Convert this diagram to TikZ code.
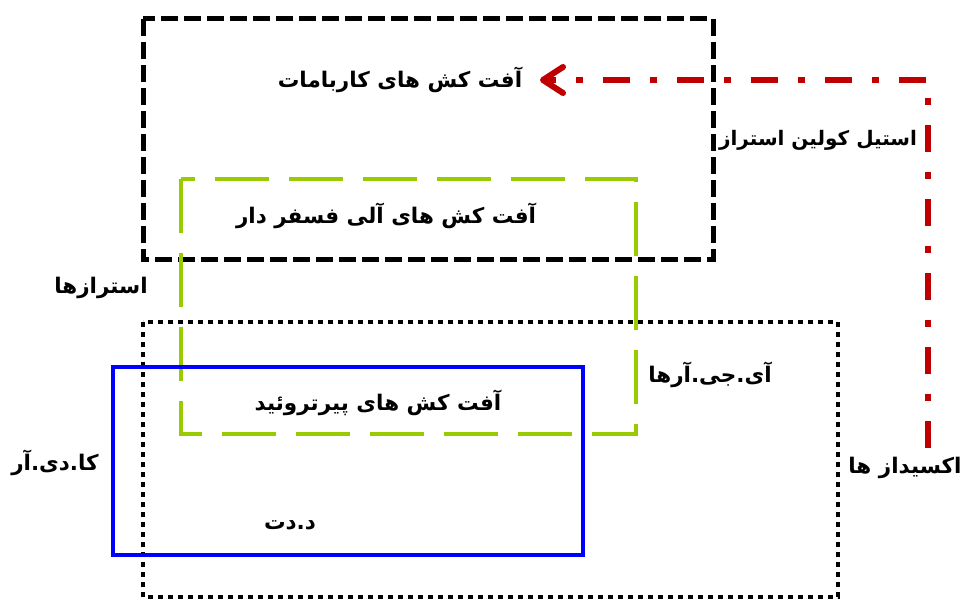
\documentclass[tikz,border=0pt]{standalone}
\usepackage{fontspec}
\usetikzlibrary{arrows.meta}
\TeXXeTstate=1
\newfontfamily\arabicfont[Script=Arabic]{DejaVu Sans}
\definecolor{dred}{HTML}{C00000}
\definecolor{lgreen}{HTML}{99CC00}
\begin{document}
\begin{tikzpicture}[x=1pt,y=-1pt,
  lbl/.style={font=\arabicfont\bfseries\fontsize{21.5}{25}\selectfont, inner sep=2pt},
  blackbox/.style={draw=black, line width=5pt, dash pattern=on 17pt off 6pt},
  greenbox/.style={draw=lgreen, line width=4.5pt, dash pattern=on 54pt off 20pt},
  dotbox/.style={draw=black, line width=4.5pt, dash pattern=on 5pt off 5pt},
  bluebox/.style={draw=blue, line width=4.5pt},
  redarrow/.style={draw=dred, line width=6pt, dash pattern=on 27pt off 20pt on 7pt off 20pt,
    -{Straight Barb[round,length=20pt,width=26pt]}}
  ]
\useasboundingbox (0,0) rectangle (961,601);
% boxes
\draw[blackbox] (143,19) rectangle (713,260);
\draw[greenbox] (181,179) rectangle (636,434);
\draw[dotbox] (143,322) rectangle (838,597);
\draw[bluebox] (113,367) rectangle (583,555);
% labels
\node[lbl] (carb) at (400,80) {\beginR آفت کش های کاربامات\endR};
\node[lbl, font=\arabicfont\bfseries\fontsize{20}{24}\selectfont] (ache) at (818,140) {\beginR استیل کولین استراز\endR};
\node[lbl] (opp) at (386,216) {\beginR آفت کش های آلی فسفر دار\endR};
\node[lbl] (est) at (101,288) {\beginR استرازها\endR};
\node[lbl] (pyr) at (378,403) {\beginR آفت کش های پیرتروئید\endR};
\node[lbl] (igr) at (710,375) {\beginR آی.جی.آرها\endR};
\node[lbl] (kdr) at (55,463) {\beginR کا.دی.آر\endR};
\node[lbl] (ddt) at (290,525) {\beginR د.دت\endR};
\node[lbl] (oxi) at (905,468) {\beginR اکسیداز ها\endR};
% connector
\coordinate (ostart) at (928,448);
\coordinate (atip) at (540,80);
\draw[redarrow] (ostart) -- (928,80) -- (atip);
\end{tikzpicture}
\end{document}
